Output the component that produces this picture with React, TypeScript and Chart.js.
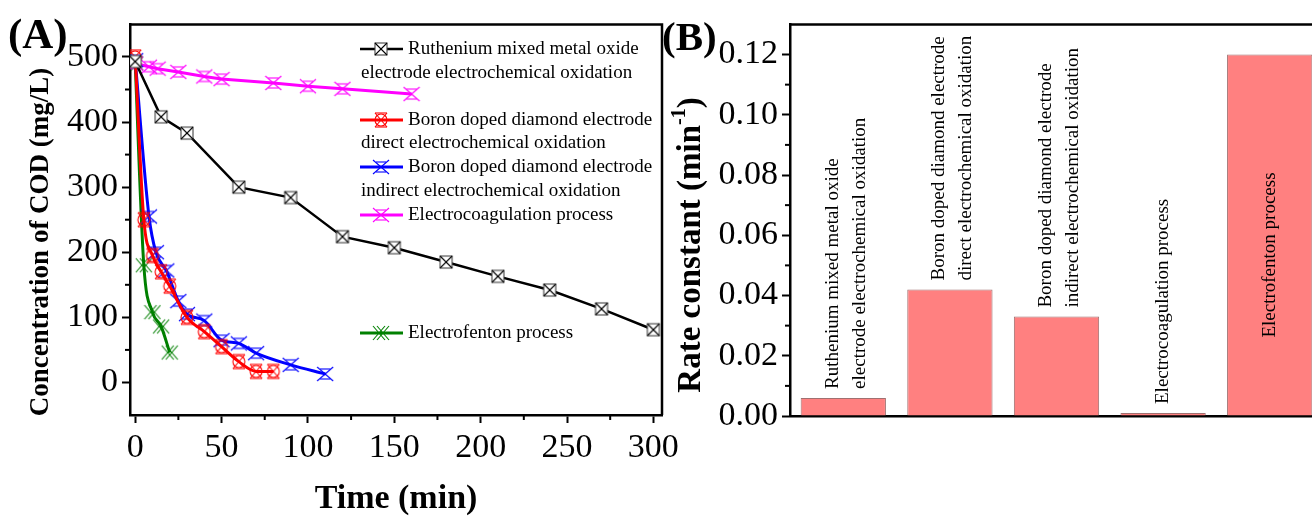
import React, { useEffect, useRef } from "react";
import { Chart, registerables } from "chart.js";

Chart.register(...registerables);

const SERIF = "'Liberation Serif', 'Times New Roman', serif";

// ---------- Panel (A): COD vs time ----------
const RU_TIME = [0, 15, 30, 60, 90, 120, 150, 180, 210, 240, 270, 300];
const RU_COD = [493, 408, 383, 300, 284, 224, 207, 185, 163, 142, 113, 81];
const BDD_DIRECT_TIME = [0, 5, 10, 15, 20, 30, 40, 50, 60, 70, 80];
const BDD_DIRECT_COD = [500, 250, 195, 170, 148, 100, 78, 55, 32, 17, 17];
const BDD_INDIRECT_TIME = [0, 8, 12, 18, 25, 30, 40, 50, 60, 70, 90, 110];
const BDD_INDIRECT_COD = [495, 255, 200, 172, 125, 105, 95, 65, 60, 45, 27, 13];
const EC_TIME = [0, 8, 13, 25, 40, 50, 80, 100, 120, 160];
const EC_COD = [490, 485, 482, 477, 470, 466, 460, 455, 451, 443];
const EF_TIME = [0, 5, 10, 15, 20];
const EF_COD = [490, 180, 108, 86, 46];

const TIME_TICKS = [0, 50, 100, 150, 200, 250, 300];
const TIME_MINOR = [25, 75, 125, 175, 225, 275];
const COD_TICKS = [0, 100, 200, 300, 400, 500];
const COD_MINOR = [50, 150, 250, 350, 450];

const LEGEND_RU = ["Ruthenium mixed metal oxide", "electrode electrochemical oxidation"];
const LEGEND_BDD_DIRECT = ["Boron doped diamond electrode", "direct electrochemical oxidation"];
const LEGEND_BDD_INDIRECT = ["Boron doped diamond electrode", "indirect electrochemical oxidation"];
const LEGEND_EC = ["Electrocoagulation process"];
const LEGEND_EF = ["Electrofenton process"];

// ---------- Panel (B): rate constants ----------
const PROCESSES = [
  "Ruthenium mixed metal oxide electrode electrochemical oxidation",
  "Boron doped diamond electrode direct electrochemical oxidation",
  "Boron doped diamond electrode indirect electrochemical oxidation",
  "Electrocoagulation process",
  "Electrofenton process",
];
const RATE_CONSTANT = [0.006, 0.042, 0.033, 0.001, 0.12];
const BAR_LABEL_LINES = [
  ["Ruthenium mixed metal oxide", "electrode electrochemical oxidation"],
  ["Boron doped diamond electrode", "direct electrochemical oxidation"],
  ["Boron doped diamond electrode", "indirect electrochemical oxidation"],
  ["Electrocoagulation process"],
  ["Electrofenton process"],
];
const RATE_TICKS = [0, 0.02, 0.04, 0.06, 0.08, 0.1, 0.12];
const RATE_MINOR = [0.01, 0.03, 0.05, 0.07, 0.09, 0.11];

function pts(xs: number[], ys: number[]) {
  return xs.map((x, i) => ({ x, y: ys[i] }));
}

function makeMarker(kind: string, color: string): HTMLCanvasElement {
  const c = document.createElement("canvas");
  c.width = 18;
  c.height = 18;
  const g = c.getContext("2d")!;
  g.strokeStyle = color;
  g.lineWidth = 1.1;
  const m = 9;
  const line = (x1: number, y1: number, x2: number, y2: number) => {
    g.beginPath();
    g.moveTo(x1, y1);
    g.lineTo(x2, y2);
    g.stroke();
  };
  if (kind === "box") {
    g.fillStyle = "#fff";
    g.fillRect(m - 6, m - 6, 12, 12);
    g.strokeStyle = "#444";
    g.strokeRect(m - 6, m - 6, 12, 12);
    g.strokeStyle = "#000";
    line(m - 6, m - 6, m + 6, m + 6);
    line(m + 6, m - 6, m - 6, m + 6);
  } else if (kind === "circle") {
    g.beginPath();
    g.arc(m, m, 6, 0, Math.PI * 2);
    g.stroke();
    line(m - 6, m - 7, m + 6, m + 7);
    line(m + 6, m - 7, m - 6, m + 7);
    line(m - 6, m - 7, m + 6, m - 7);
    line(m - 6, m + 7, m + 6, m + 7);
  } else if (kind === "hourglass") {
    line(m - 8, m - 7, m + 8, m + 7);
    line(m + 8, m - 7, m - 8, m + 7);
    line(m - 5, m - 5, m + 5, m - 5);
    line(m - 5, m + 5, m + 5, m + 5);
  } else {
    line(m - 8, m - 7, m + 4, m + 7);
    line(m + 4, m - 7, m - 8, m + 7);
    line(m - 4, m - 7, m + 8, m + 7);
    line(m + 8, m - 7, m - 4, m + 7);
  }
  return c;
}

export default function App() {
  const leftRef = useRef<HTMLCanvasElement>(null);
  const rightRef = useRef<HTMLCanvasElement>(null);

  useEffect(() => {
    const mRu = makeMarker("box", "#000");
    const mDir = makeMarker("circle", "#ff0000");
    const mInd = makeMarker("hourglass", "#0000ff");
    const mEc = makeMarker("hourglass", "#ff00ff");
    const mEf = makeMarker("double", "#008000");

    const series = [
      { label: LEGEND_RU, data: pts(RU_TIME, RU_COD), color: "#000000", width: 2.5, marker: mRu, tension: 0 },
      { label: LEGEND_BDD_DIRECT, data: pts(BDD_DIRECT_TIME, BDD_DIRECT_COD), color: "#ff0000", width: 3, marker: mDir, tension: 0.3 },
      { label: LEGEND_BDD_INDIRECT, data: pts(BDD_INDIRECT_TIME, BDD_INDIRECT_COD), color: "#0000ff", width: 3, marker: mInd, tension: 0.3 },
      { label: LEGEND_EC, data: pts(EC_TIME, EC_COD), color: "#ff00ff", width: 3, marker: mEc, tension: 0 },
      { label: LEGEND_EF, data: pts(EF_TIME, EF_COD), color: "#008000", width: 3, marker: mEf, tension: 0.3 },
    ];

    const legendRows = [[49, 73], [120, 143], [167, 191], [215], [333]];

    const minorTicks = {
      id: "minorTicks",
      afterDraw(chart: any, _a: any, opts: any) {
        const ctx = chart.ctx;
        ctx.save();
        ctx.strokeStyle = "#000";
        ctx.lineWidth = 2;
        for (const it of opts.items || []) {
          const s = chart.scales[it.axis];
          for (const v of it.values) {
            const p = s.getPixelForValue(v);
            ctx.beginPath();
            if (it.axis === "x") {
              ctx.moveTo(p, s.top);
              ctx.lineTo(p, s.top + 5);
            } else {
              ctx.moveTo(s.right, p);
              ctx.lineTo(s.right - 5, p);
            }
            ctx.stroke();
          }
        }
        ctx.restore();
      },
    };

    const frameAndText = {
      id: "frameAndText",
      afterDraw(chart: any, _a: any, opts: any) {
        const ctx = chart.ctx;
        const a = chart.chartArea;
        ctx.save();
        ctx.strokeStyle = "#000";
        ctx.lineWidth = 2.5;
        ctx.beginPath();
        ctx.moveTo(a.left - 1, a.top);
        ctx.lineTo(a.right, a.top);
        if (opts.right) ctx.lineTo(a.right, a.bottom);
        ctx.stroke();
        ctx.fillStyle = "#000";
        // panel label
        ctx.font = `bold ${opts.panelSize}px ${SERIF}`;
        ctx.textAlign = "left";
        ctx.textBaseline = "middle";
        ctx.fillText(opts.panel, opts.panelX, opts.panelY);
        // y title (rotated)
        ctx.translate(opts.titleX, opts.titleY);
        ctx.rotate(-Math.PI / 2);
        ctx.font = `bold ${opts.titleSize}px ${SERIF}`;
        const w1 = ctx.measureText(opts.title).width;
        let supW = 0;
        let w2 = 0;
        if (opts.sup) {
          ctx.font = `bold ${Math.round(opts.titleSize * 0.6)}px ${SERIF}`;
          supW = ctx.measureText(opts.sup).width;
          ctx.font = `bold ${opts.titleSize}px ${SERIF}`;
          w2 = ctx.measureText(opts.after).width;
        }
        const total = w1 + supW + w2;
        let x = -total / 2;
        ctx.fillText(opts.title, x, 0);
        x += w1;
        if (opts.sup) {
          ctx.font = `bold ${Math.round(opts.titleSize * 0.6)}px ${SERIF}`;
          ctx.fillText(opts.sup, x, -opts.titleSize * 0.35);
          x += supW;
          ctx.font = `bold ${opts.titleSize}px ${SERIF}`;
          ctx.fillText(opts.after, x, 0);
        }
        ctx.restore();
      },
    };

    const customLegend = {
      id: "customLegend",
      afterDatasetsDraw(chart: any) {
        const ctx = chart.ctx;
        ctx.save();
        ctx.font = `19px ${SERIF}`;
        ctx.textBaseline = "middle";
        ctx.textAlign = "left";
        series.forEach((s, i) => {
          const rows = legendRows[i];
          const y0 = rows[0];
          ctx.strokeStyle = s.color;
          ctx.lineWidth = s.width;
          ctx.beginPath();
          ctx.moveTo(360, y0);
          ctx.lineTo(403, y0);
          ctx.stroke();
          ctx.drawImage(s.marker, 381 - 9, y0 - 9);
          ctx.fillStyle = "#000";
          s.label.forEach((t, j) => {
            ctx.fillText(t, j === 0 ? 408 : 361, rows[j]);
          });
        });
        ctx.restore();
      },
    };

    const tickFont = { family: SERIF, size: 34 };

    const left = new Chart(leftRef.current!, {
      type: "line",
      data: {
        datasets: series.map((s) => ({
          label: s.label.join(" "),
          data: s.data,
          borderColor: s.color,
          backgroundColor: s.color,
          borderWidth: s.width,
          pointStyle: s.marker as any,
          pointRadius: 8,
          tension: s.tension,
          cubicInterpolationMode: s.tension ? "monotone" : "default",
          fill: false,
        })),
      },
      options: {
        animation: false,
        responsive: false,
        layout: { padding: { top: 23, left: 0, right: 28, bottom: 0 } },
        plugins: {
          legend: { display: false },
          tooltip: { enabled: false },
          minorTicks: { items: [{ axis: "x", values: TIME_MINOR }, { axis: "y", values: COD_MINOR }] },
          frameAndText: {
            right: true,
            panel: "(A)",
            panelSize: 43,
            panelX: 8,
            panelY: 37,
            title: "Concentration of COD (mg/L)",
            titleSize: 27,
            titleX: 41,
            titleY: 242,
          },
        } as any,
        scales: {
          x: {
            type: "linear",
            min: -3,
            max: 305,
            afterBuildTicks: (s: any) => {
              s.ticks = TIME_TICKS.map((v) => ({ value: v }));
            },
            afterFit: (s: any) => {
              s.height = 101;
            },
            ticks: { font: tickFont, color: "#000", padding: 5, maxRotation: 0, autoSkip: false },
            grid: { drawOnChartArea: false, drawTicks: true, tickLength: 8, tickWidth: 2, tickColor: "#000" },
            border: { display: true, color: "#000", width: 2.5 },
            title: {
              display: true,
              text: "Time (min)",
              color: "#000",
              font: { family: SERIF, size: 34, weight: "bold", lineHeight: 1 },
              padding: { top: 0, bottom: 0 },
            },
          },
          y: {
            type: "linear",
            min: -50,
            max: 550,
            afterBuildTicks: (s: any) => {
              s.ticks = COD_TICKS.map((v) => ({ value: v }));
            },
            afterFit: (s: any) => {
              s.width = 130;
            },
            ticks: { font: tickFont, color: "#000", padding: 4, autoSkip: false },
            grid: { drawOnChartArea: false, drawTicks: true, tickLength: 8, tickWidth: 2, tickColor: "#000" },
            border: { display: true, color: "#000", width: 2.5 },
          },
        },
      } as any,
      plugins: [minorTicks, frameAndText, customLegend],
    });

    const barLabels = {
      id: "barLabels",
      afterDatasetsDraw(chart: any) {
        const ctx = chart.ctx;
        const meta = chart.getDatasetMeta(0);
        ctx.save();
        ctx.font = `19px ${SERIF}`;
        ctx.fillStyle = "#000";
        ctx.textAlign = "left";
        ctx.textBaseline = "middle";
        meta.data.forEach((bar: any, i: number) => {
          const lines = BAR_LABEL_LINES[i];
          const { x, y, base } = bar.getProps(["x", "y", "base"], true);
          const maxW = Math.max(...lines.map((l) => ctx.measureText(l).width));
          let start = y - 9;
          if (start - maxW < chart.chartArea.top) start = (y + base) / 2 + 20 + maxW / 2;
          ctx.save();
          ctx.translate(x + (lines.length > 1 ? 3 : 0), start);
          ctx.rotate(-Math.PI / 2);
          lines.forEach((l, j) => ctx.fillText(l, 0, (j - (lines.length - 1) / 2) * 27));
          ctx.restore();
        });
        ctx.restore();
      },
    };

    const right = new Chart(rightRef.current!, {
      type: "bar",
      data: {
        labels: PROCESSES,
        datasets: [
          {
            label: "Rate constant",
            data: RATE_CONSTANT,
            backgroundColor: "#ff8080",
            borderColor: "#a07070",
            borderWidth: 1,
            barPercentage: 0.8,
            categoryPercentage: 1,
          },
        ],
      },
      options: {
        animation: false,
        responsive: false,
        layout: { padding: { top: 23, left: 0, right: 17, bottom: 0 } },
        plugins: {
          legend: { display: false },
          tooltip: { enabled: false },
          minorTicks: { items: [{ axis: "y", values: RATE_MINOR }] },
          frameAndText: {
            right: false,
            panel: "(B)",
            panelSize: 41,
            panelX: 22,
            panelY: 39,
            title: "Rate constant (min",
            sup: "-1",
            after: ")",
            titleSize: 33,
            titleX: 51,
            titleY: 245,
          },
        } as any,
        scales: {
          x: {
            type: "category",
            afterFit: (s: any) => {
              s.height = 100;
            },
            ticks: { display: false },
            grid: { display: false, drawTicks: false },
            border: { display: true, color: "#000", width: 2.5 },
          },
          y: {
            type: "linear",
            min: 0,
            max: 0.13,
            afterBuildTicks: (s: any) => {
              s.ticks = RATE_TICKS.map((v) => ({ value: v }));
            },
            afterFit: (s: any) => {
              s.width = 150;
            },
            ticks: {
              font: tickFont,
              color: "#000",
              padding: 4,
              autoSkip: false,
              callback: (v: any) => Number(v).toFixed(2),
            },
            grid: { drawOnChartArea: false, drawTicks: true, tickLength: 8, tickWidth: 2, tickColor: "#000" },
            border: { display: true, color: "#000", width: 2.5 },
          },
        },
      } as any,
      plugins: [minorTicks, frameAndText, barLabels],
    });

    return () => {
      left.destroy();
      right.destroy();
    };
  }, []);

  return (
    <div
      style={{
        position: "fixed",
        left: 0,
        top: 0,
        width: 1312,
        height: 516,
        overflow: "hidden",
        background: "#fff",
      }}
    >
      <canvas ref={leftRef} width={690} height={516} style={{ position: "absolute", left: 0, top: 0 }} />
      <canvas ref={rightRef} width={700} height={516} style={{ position: "absolute", left: 640, top: 0 }} />
    </div>
  );
}
